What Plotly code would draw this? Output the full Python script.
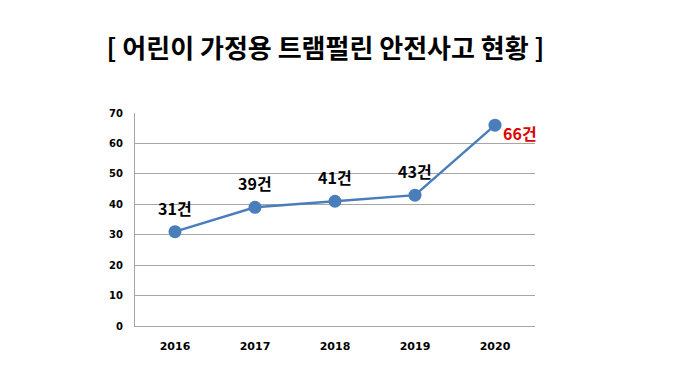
import plotly.graph_objects as go

years = ["2016", "2017", "2018", "2019", "2020"]
counts = [31, 39, 41, 43, 66]
labels = ["31건", "39건", "41건", "43건", "66건"]
label_colors = ["#000000", "#000000", "#000000", "#000000", "#E00000"]
y_ticks = [0, 10, 20, 30, 40, 50, 60, 70]

W, H = 684, 365

fig = go.Figure()
fig.add_trace(go.Scatter(
    x=years, y=counts, mode="lines+markers",
    line=dict(color="#4A7EBB", width=2.5),
    marker=dict(color="#4A7EBB", size=13),
    showlegend=False, hoverinfo="skip",
))

for i, (y, t, c) in enumerate(zip(counts, labels, label_colors)):
    last = i == len(years) - 1
    fig.add_annotation(
        x=i, y=y, xref="x", yref="y", text=t, showarrow=False,
        font=dict(family="Noto Sans CJK KR", size=16, color=c, weight="bold"),
        xanchor="left" if last else "center",
        xshift=6 if last else 0,
        yshift=-8 if last else 24,
    )

fig.update_layout(
    width=W, height=H,
    margin=dict(l=127, r=157, t=105, b=47),
    paper_bgcolor="white", plot_bgcolor="white",
    title=dict(
        text="[ 어린이 가정용 트램펄린 안전사고 현황 ]",
        x=(324.5 - 7) / W, xanchor="center", y=1 - (48 - 7) / H, yanchor="middle",
        font=dict(family="Noto Sans CJK KR", size=26, color="#000000", weight="bold"),
    ),
    xaxis=dict(
        type="category", range=[-0.5, 4.5],
        showgrid=False, showline=True, linecolor="#A6A6A6", linewidth=1,
        zeroline=False,
        tickfont=dict(family="DejaVu Sans", size=11, color="#000000", weight="bold"),
        ticklabelstandoff=10,
    ),
    yaxis=dict(
        range=[0, 70], tickvals=y_ticks,
        showgrid=True, gridcolor="#A6A6A6", gridwidth=1,
        showline=True, linecolor="#A6A6A6", linewidth=1,
        zeroline=False,
        tickfont=dict(family="DejaVu Sans", size=10, color="#000000", weight="bold"),
        ticklabelstandoff=9,
    ),
)

fig.write_html("out.html")
